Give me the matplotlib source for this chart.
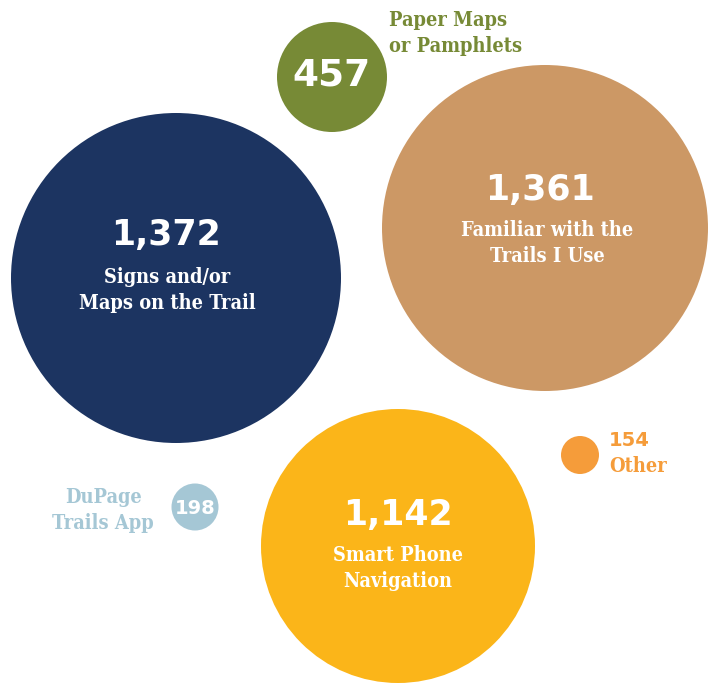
import matplotlib
matplotlib.use("Agg")
import matplotlib.pyplot as plt
from matplotlib.patches import Circle
from matplotlib import font_manager

# Data
categories = ["Signs and/or\nMaps on the Trail", "Familiar with the\nTrails I Use",
              "Smart Phone\nNavigation", "Paper Maps\nor Pamphlets",
              "DuPage\nTrails App", "Other"]
values = [1372, 1361, 1142, 457, 198, 154]
colors = ["#1c3461", "#cc9865", "#fbb519", "#778a36", "#a5c7d5", "#f59c3a"]

# Layout (pixel coordinates)
centers = [(176, 278), (545, 228), (398, 546), (332, 77), (195, 507), (580, 455)]
radii = [165, 163, 137, 55, 23.5, 19]

cond = [f for f in font_manager.fontManager.ttflist
        if f.name == "DejaVu Serif" and f.stretch == "condensed" and f.weight == 700]

fig = plt.figure(figsize=(7.14, 6.86), dpi=100)
ax = fig.add_axes([0, 0, 1, 1])
ax.set_xlim(0, 714)
ax.set_ylim(686, 0)
ax.set_aspect("equal")
ax.axis("off")

numfont = dict(family="DejaVu Sans", weight="bold")
if cond:
    labfont = dict(family="DejaVu Serif", weight="bold", stretch="condensed")
    labsize = 14.3
else:
    labfont = dict(family="DejaVu Serif", weight="bold")
    labsize = 13

for (cx, cy), r, c in zip(centers, radii, colors):
    ax.add_patch(Circle((cx, cy), r, color=c, lw=0))

def fmt(v):
    return f"{v:,}"

LS = 1.42

# Big circles: number + label inside
inside = [(0, 166, 235, 167, 290), (1, 540, 190, 547, 243), (2, 398, 515, 398, 568)]
for i, nx, ny, lx, ly in inside:
    ax.text(nx, ny, fmt(values[i]), color="white", fontsize=25, ha="center", va="center", **numfont)
    ax.text(lx, ly, categories[i], color="white", fontsize=labsize, ha="center", va="center",
            linespacing=LS, **labfont)

# Paper maps
ax.text(332, 76, fmt(values[3]), color="white", fontsize=27, ha="center", va="center", **numfont)
ax.text(389, 33, categories[3], color=colors[3], fontsize=labsize, ha="left", va="center",
        linespacing=LS, **labfont)

# DuPage
ax.text(195, 508, fmt(values[4]), color="white", fontsize=14, ha="center", va="center", **numfont)
ax.text(154, 510, categories[4], color=colors[4], fontsize=labsize, ha="right", va="center",
        linespacing=LS, multialignment="center", **labfont)

# Other
ax.text(609, 440, fmt(values[5]), color=colors[5], fontsize=14, ha="left", va="center", **numfont)
ax.text(609, 466, categories[5], color=colors[5], fontsize=labsize, ha="left", va="center", **labfont)

fig.savefig("out.png", dpi=100)
